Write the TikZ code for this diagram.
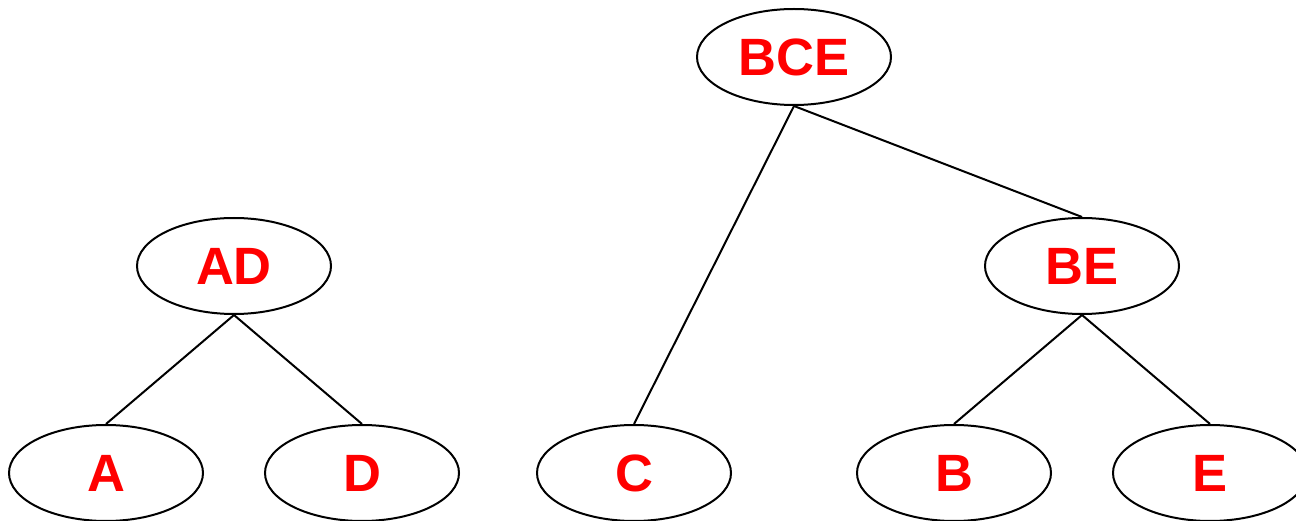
\documentclass[tikz,border=0pt]{standalone}
\usepackage{fontspec}
\setmainfont{Liberation Sans}
\usetikzlibrary{shapes.geometric}
\begin{document}
\begin{tikzpicture}[x=1pt,y=1pt,
  treenode/.style={ellipse,draw=black,line width=2pt,minimum width=194pt,minimum height=96pt,inner sep=0pt,
    text=red,font=\fontsize{52.5}{60}\selectfont\bfseries},
  edge/.style={draw=black,line width=2pt}]
\useasboundingbox (0,0) rectangle (1296,520);
\node[treenode] (bce) at (794,463) {BCE};
\node[treenode] (ad) at (234,254) {AD};
\node[treenode] (be) at (1082,254) {BE};
\node[treenode] (a) at (106,47) {A};
\node[treenode] (d) at (362,47) {D};
\node[treenode] (c) at (634,47) {C};
\node[treenode] (b) at (954,47) {B};
\node[treenode] (e) at (1210,47) {E};
\draw[edge] (bce.south) -- (c.north);
\draw[edge] (bce.south) -- (be.north);
\draw[edge] (ad.south) -- (a.north);
\draw[edge] (ad.south) -- (d.north);
\draw[edge] (be.south) -- (b.north);
\draw[edge] (be.south) -- (e.north);
\end{tikzpicture}
\end{document}
